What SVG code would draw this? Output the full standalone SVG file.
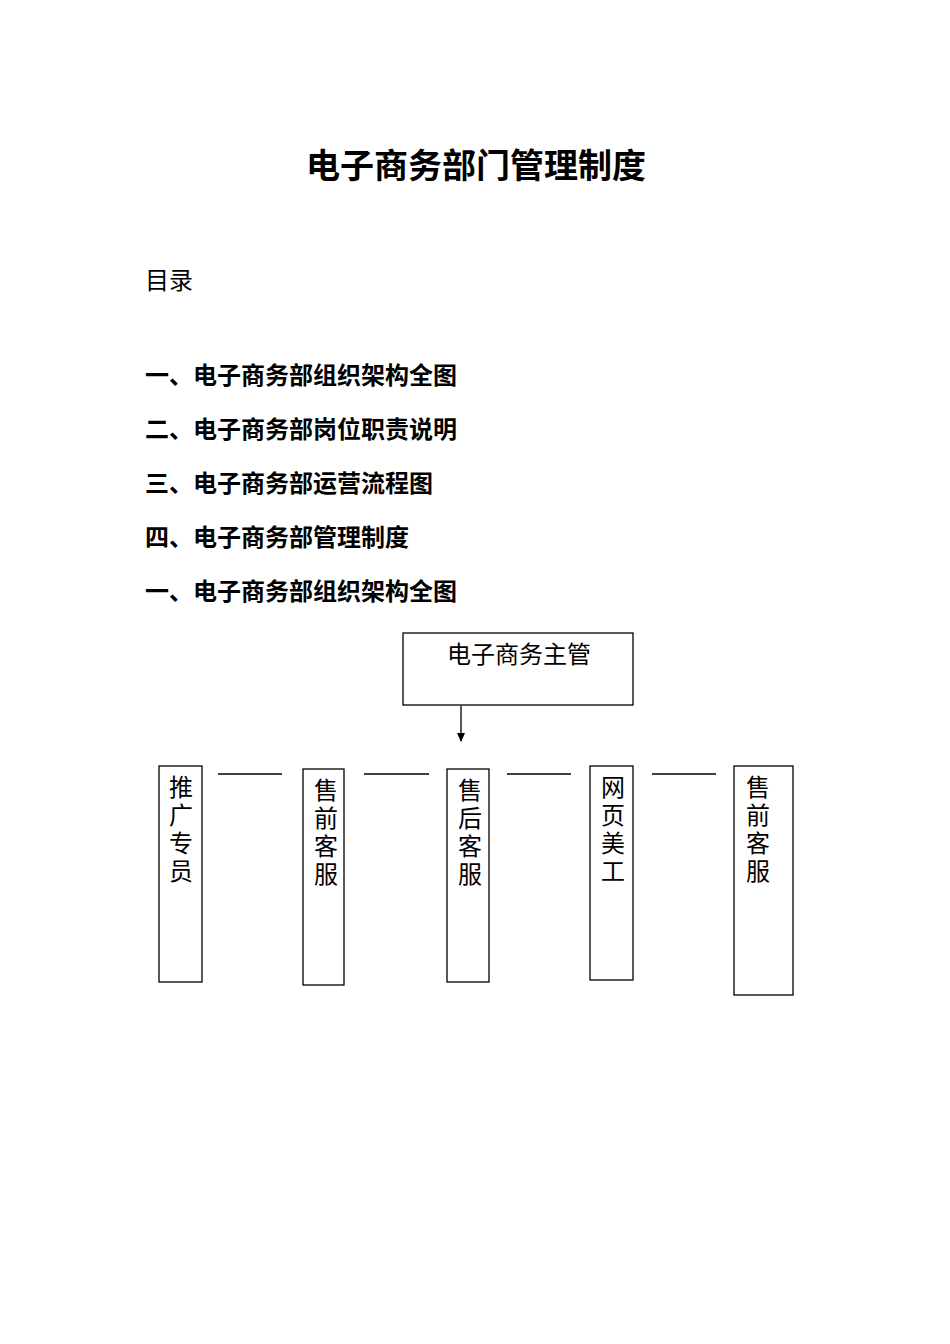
<svg xmlns="http://www.w3.org/2000/svg" width="950" height="1344" viewBox="0 0 950 1344">
<style>
text{font-family:"Liberation Serif","Noto Sans CJK SC",serif;fill:#000}
.h{font-size:24px;font-weight:bold}
.n{font-size:24px}
.b{fill:#fff;stroke:#000;stroke-width:1.3}
.c{stroke:#000;stroke-width:1.3;fill:none}
</style>
<defs><marker id="a" markerWidth="10" markerHeight="10" refX="8" refY="5" orient="auto" markerUnits="userSpaceOnUse"><path d="M0,1 L9,5 L0,9z" fill="#000"/></marker></defs>
<rect width="950" height="1344" fill="#fff"/>
<text x="476" y="178" font-size="34" font-weight="bold" text-anchor="middle">电子商务部门管理制度</text>
<text x="145" y="289" class="n">目录</text>
<text x="145" y="384" class="h">一、电子商务部组织架构全图</text>
<text x="145" y="438" class="h">二、电子商务部岗位职责说明</text>
<text x="145" y="492" class="h">三、电子商务部运营流程图</text>
<text x="145" y="546" class="h">四、电子商务部管理制度</text>
<text x="145" y="600" class="h">一、电子商务部组织架构全图</text>
<g id="connectors">
<line class="c" x1="461" y1="706" x2="461" y2="741" marker-end="url(#a)"/>
<line class="c" x1="218" y1="774" x2="282" y2="774"/>
<line class="c" x1="364" y1="774" x2="429" y2="774"/>
<line class="c" x1="507" y1="774" x2="571" y2="774"/>
<line class="c" x1="652" y1="774" x2="716" y2="774"/>
</g>
<g id="n0"><rect class="b" x="403" y="633" width="230" height="72"/><text x="519" y="663" class="n" text-anchor="middle">电子商务主管</text></g>
<g id="n1"><rect class="b" x="159" y="766" width="43" height="216"/><text x="181" y="796" class="n" text-anchor="middle"><tspan x="181">推</tspan><tspan x="181" dy="28">广</tspan><tspan x="181" dy="28">专</tspan><tspan x="181" dy="28">员</tspan></text></g>
<g id="n2"><rect class="b" x="303" y="769" width="41" height="216"/><text x="326" y="799" class="n" text-anchor="middle"><tspan x="326">售</tspan><tspan x="326" dy="28">前</tspan><tspan x="326" dy="28">客</tspan><tspan x="326" dy="28">服</tspan></text></g>
<g id="n3"><rect class="b" x="447" y="769" width="42" height="213"/><text x="470" y="799" class="n" text-anchor="middle"><tspan x="470">售</tspan><tspan x="470" dy="28">后</tspan><tspan x="470" dy="28">客</tspan><tspan x="470" dy="28">服</tspan></text></g>
<g id="n4"><rect class="b" x="590" y="766" width="43" height="214"/><text x="613" y="796" class="n" text-anchor="middle"><tspan x="613">网</tspan><tspan x="613" dy="28">页</tspan><tspan x="613" dy="28">美</tspan><tspan x="613" dy="28">工</tspan></text></g>
<g id="n5"><rect class="b" x="734" y="766" width="59" height="229"/><text x="758" y="796" class="n" text-anchor="middle"><tspan x="758">售</tspan><tspan x="758" dy="28">前</tspan><tspan x="758" dy="28">客</tspan><tspan x="758" dy="28">服</tspan></text></g>
</svg>
